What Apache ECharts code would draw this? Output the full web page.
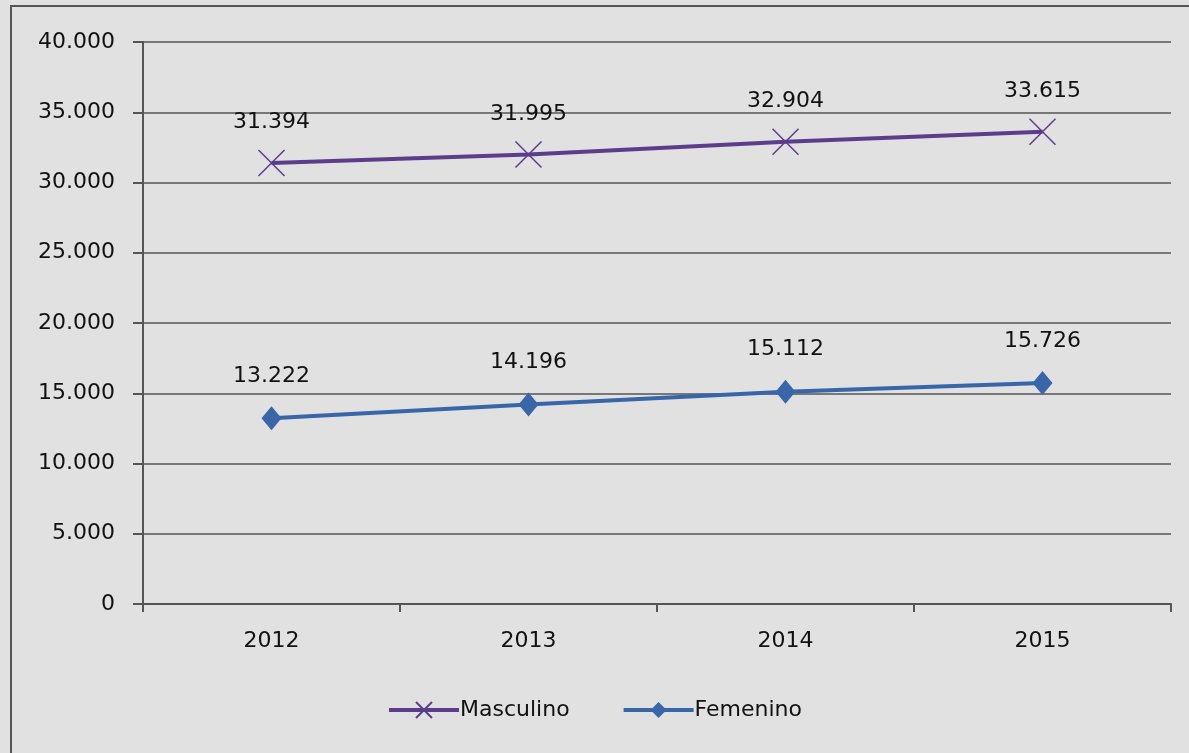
<!DOCTYPE html>
<html>
<head>
<meta charset="utf-8">
<script src="https://cdn.jsdelivr.net/npm/echarts@6/dist/echarts.min.js"></script>
<style>
    html, body { margin: 0; padding: 0; background: #e1e1e1; }
    #chart { width: 1189px; height: 753px; }
</style>
</head>
<body>
<div id="chart"></div>
<script>
var years = ['2012', '2013', '2014', '2015'];
var masculino = [31394, 31995, 32904, 33615];
var femenino = [13222, 14196, 15112, 15726];

var purple = '#5c3d8b';
var blue = '#3966a9';
var crossPath = 'path://M0,0L10,10M10,0L0,10';

function fmt(v) {
    return String(v).replace(/\B(?=(\d{3})+(?!\d))/g, '.');
}

var dom = document.getElementById('chart');
var myChart = echarts.init(dom);

var option = {
    backgroundColor: '#e1e1e1',
    textStyle: { fontFamily: 'DejaVu Sans' },
    graphic: [{
        type: 'rect',
        shape: { x: 11, y: 6, width: 1200, height: 800 },
        style: { fill: 'none', stroke: '#555', lineWidth: 2 },
        silent: true
    }],
    grid: { left: 143, right: 18, top: 42, bottom: 149 },
    legend: {
        bottom: 27,
        left: 'center',
        itemWidth: 70,
        itemHeight: 20,
        itemGap: 52,
        lineStyle: { width: 4 },
        textStyle: { fontSize: 22, color: '#111', padding: [0, 0, 0, -4] },
        data: ['Masculino', 'Femenino']
    },
    xAxis: {
        type: 'category',
        data: years,
        boundaryGap: true,
        axisLine: { lineStyle: { color: '#555', width: 2 } },
        axisTick: { show: true, length: 8, lineStyle: { color: '#555', width: 2 } },
        axisLabel: { fontSize: 22, color: '#111', margin: 26 }
    },
    yAxis: {
        type: 'value',
        min: 0,
        max: 40000,
        interval: 5000,
        axisLine: { show: true, lineStyle: { color: '#555', width: 2 } },
        axisTick: { show: true, length: 10, lineStyle: { color: '#555', width: 2 } },
        splitLine: { lineStyle: { color: '#555', width: 1.5 } },
        axisLabel: {
            fontSize: 22,
            color: '#111',
            margin: 28,
            formatter: function (v) { return fmt(v); }
        }
    },
    series: [
        {
            name: 'Masculino',
            type: 'line',
            data: masculino,
            symbol: crossPath,
            symbolSize: 26,
            lineStyle: { color: purple, width: 4 },
            itemStyle: { color: 'none', borderColor: purple, borderWidth: 1.5 },
            label: {
                show: true,
                position: 'top',
                distance: 14,
                fontSize: 22,
                color: '#111',
                formatter: function (p) { return fmt(p.value); }
            }
        },
        {
            name: 'Femenino',
            type: 'line',
            data: femenino,
            symbol: 'diamond',
            symbolSize: [20, 24],
            lineStyle: { color: blue, width: 4 },
            itemStyle: { color: blue },
            label: {
                show: true,
                position: 'top',
                distance: 19,
                fontSize: 22,
                color: '#111',
                formatter: function (p) { return fmt(p.value); }
            }
        }
    ]
};

if (option && typeof option === "object") {
    myChart.setOption(option, true);
}
</script>
</body>
</html>
